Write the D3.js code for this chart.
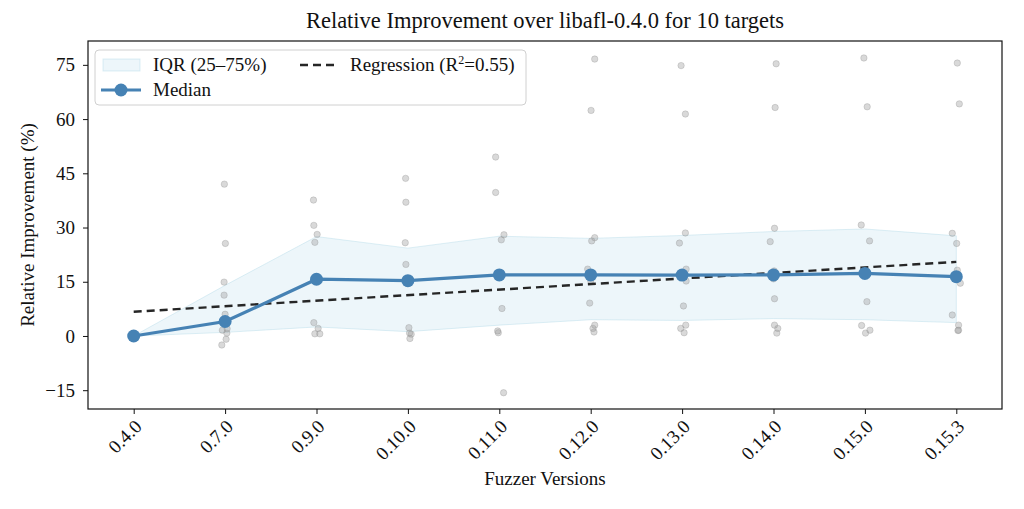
<!DOCTYPE html>
<html>
<head>
<meta charset="utf-8">
<script src="https://d3js.org/d3.v7.min.js"></script>
<style>
  body { margin: 0; background: #fff; }
  text { font-family: "Liberation Serif", "DejaVu Serif", serif; fill: #111; }
  .axis path, .axis line { stroke: #111; }
  .axis text { font-size: 19px; }
</style>
</head>
<body>
<svg id="chart" width="1024" height="509"></svg>
<script>
// fuzzer versions (x axis)
var versions = ["0.4.0", "0.7.0", "0.9.0", "0.10.0", "0.11.0", "0.12.0", "0.13.0", "0.14.0", "0.15.0", "0.15.3"];

// per-target relative improvement (%) for the 10 targets
var targetValues = [
  [0, 0, 0, 0, 0, 0, 0, 0, 0, 0],
  [-2.5, -0.9, 0.8, 1.6, 2.0, 6.0, 11.3, 14.9, 25.6, 42.0],
  [0.6, 0.6, 2.1, 3.7, 15.2, 16.2, 25.9, 28.1, 30.6, 37.6],
  [-0.7, 0.5, 0.8, 2.3, 14.8, 15.8, 19.8, 25.8, 37.0, 43.6],
  [-15.7, 0.9, 1.4, 7.6, 16.4, 17.4, 26.6, 28.0, 39.7, 49.5],
  [1.1, 2.1, 3.0, 9.1, 15.3, 18.5, 26.3, 27.2, 62.4, 76.6],
  [0.9, 2.1, 3.0, 8.3, 15.2, 18.5, 25.7, 28.5, 61.4, 74.8],
  [0.8, 2.1, 3.0, 10.3, 15.8, 18.0, 26.1, 29.8, 63.2, 75.3],
  [0.8, 1.6, 2.9, 9.5, 16.8, 17.8, 26.3, 30.7, 63.4, 76.9],
  [1.5, 1.6, 3.0, 5.8, 14.6, 18.2, 25.6, 28.4, 64.2, 75.5]
];

// horizontal jitter of each target dot (in version-index units)
var targetJitter = [
  [0, 0, 0, 0, 0, 0, 0, 0, 0, 0],
  [-0.036, 0.011, 0.019, -0.030, 0.022, 0.0, -0.011, -0.011, 0.003, -0.008],
  [-0.018, 0.036, 0.018, -0.029, 0.01, -0.01, -0.018, 0.007, -0.029, -0.033],
  [0.022, 0.036, 0.018, 0.011, 0.005, -0.005, -0.022, -0.029, -0.022, -0.025],
  [0.047, -0.011, -0.018, 0.029, 0.005, -0.005, 0.022, 0.051, -0.040, -0.040],
  [0.036, 0.025, 0.044, -0.011, 0.0, -0.033, 0.011, 0.044, 0.004, 0.044],
  [0.022, -0.015, 0.040, 0.015, 0.044, 0.044, -0.029, 0.036, 0.036, -0.011],
  [0.036, 0.047, 0.011, 0.011, 0.0, 0.007, -0.036, 0.011, 0.018, 0.029],
  [0.007, 0.055, -0.036, 0.022, 0.005, -0.005, 0.051, -0.040, 0.025, -0.011],
  [0.018, 0.025, 0.025, -0.044, 0.044, 0.011, 0.004, -0.044, 0.033, 0.011]
];

// summary series
var medians = [0, 4.0, 15.7, 15.3, 16.9, 16.9, 16.85, 16.9, 17.3, 16.4];
var q25 = [0, 1.0, 2.5, 1.2, 3.0, 4.5, 4.3, 4.8, 4.5, 3.7];
var q75 = [0, 14.0, 27.5, 24.3, 27.6, 27.0, 27.8, 28.9, 29.6, 27.7];

// regression line at first and last version
var regressionEnds = [6.7, 20.5];
var rSquared = "0.55";

var yTicks = [-15, 0, 15, 30, 45, 60, 75];

var svg = d3.select("#chart");
var margin = { left: 88, right: 22, top: 41, bottom: 100 };
var W = 1024, H = 509;
var plotW = W - margin.left - margin.right;
var plotH = H - margin.top - margin.bottom;

var x = d3.scaleLinear().domain([-0.5, versions.length - 0.5]).range([margin.left, margin.left + plotW]);
var y = d3.scaleLinear().domain([-20.2, 81.6]).range([margin.top + plotH, margin.top]);

var blue = "#4682b4";
var bandFill = "#add8e6";

// IQR band
var band = d3.area()
  .x(function (d, i) { return x(i); })
  .y0(function (d, i) { return y(q25[i]); })
  .y1(function (d, i) { return y(q75[i]); });
svg.append("path")
  .datum(versions)
  .attr("d", band)
  .attr("fill", bandFill)
  .attr("fill-opacity", 0.22)
  .attr("stroke", bandFill)
  .attr("stroke-opacity", 0.4);

// per-target dots
var dots = [];
targetValues.forEach(function (vals, i) {
  vals.forEach(function (v, j) { dots.push({ i: i + targetJitter[i][j], v: v }); });
});
svg.append("g").selectAll("circle")
  .data(dots)
  .enter().append("circle")
  .attr("cx", function (d) { return x(d.i); })
  .attr("cy", function (d) { return y(d.v); })
  .attr("r", 3.2)
  .attr("fill", "#a0a0a0")
  .attr("fill-opacity", 0.4)
  .attr("stroke", "#8a8a8a")
  .attr("stroke-opacity", 0.3);

// regression
svg.append("line")
  .attr("x1", x(0)).attr("y1", y(regressionEnds[0]))
  .attr("x2", x(versions.length - 1)).attr("y2", y(regressionEnds[1]))
  .attr("stroke", "#262626")
  .attr("stroke-width", 2.4)
  .attr("stroke-dasharray", "8,5");

// median line + markers
var line = d3.line()
  .x(function (d, i) { return x(i); })
  .y(function (d) { return y(d); });
svg.append("path")
  .datum(medians)
  .attr("d", line)
  .attr("fill", "none")
  .attr("stroke", blue)
  .attr("stroke-width", 3.2);
svg.append("g").selectAll("circle")
  .data(medians)
  .enter().append("circle")
  .attr("cx", function (d, i) { return x(i); })
  .attr("cy", function (d) { return y(d); })
  .attr("r", 6.5)
  .attr("fill", blue);

// axes
var xAxis = d3.axisBottom(x)
  .tickValues(d3.range(versions.length))
  .tickFormat(function (i) { return versions[i]; })
  .tickSizeOuter(0)
  .tickSize(5);
var gx = svg.append("g")
  .attr("class", "axis")
  .attr("transform", "translate(0," + (margin.top + plotH) + ")")
  .call(xAxis);
gx.select(".domain").remove();
gx.selectAll("text")
  .attr("text-anchor", "end")
  .attr("dy", "0.35em")
  .attr("transform", "translate(4,14) rotate(-45)")
  .attr("y", 0).attr("x", 0);

var yAxis = d3.axisLeft(y).tickValues(yTicks).tickSize(5).tickSizeOuter(0)
  .tickFormat(function (d) { return d < 0 ? "\u2212" + Math.abs(d) : d; });
var gy = svg.append("g")
  .attr("class", "axis")
  .attr("transform", "translate(" + margin.left + ",0)")
  .call(yAxis);
gy.select(".domain").remove();
gy.selectAll("text").attr("x", -13);

// frame
svg.append("rect")
  .attr("x", margin.left).attr("y", margin.top)
  .attr("width", plotW).attr("height", plotH)
  .attr("fill", "none").attr("stroke", "#111").attr("stroke-width", 1.2);

// title and axis labels
svg.append("text")
  .attr("x", margin.left + plotW / 2).attr("y", 28)
  .attr("text-anchor", "middle")
  .style("font-size", "22.5px")
  .text("Relative Improvement over libafl-0.4.0 for 10 targets");
svg.append("text")
  .attr("x", margin.left + plotW / 2).attr("y", 485)
  .attr("text-anchor", "middle")
  .style("font-size", "19px")
  .text("Fuzzer Versions");
svg.append("text")
  .attr("transform", "translate(34," + (margin.top + plotH / 2) + ") rotate(-90)")
  .attr("text-anchor", "middle")
  .style("font-size", "19px")
  .text("Relative Improvement (%)");

// legend
var lg = svg.append("g").attr("transform", "translate(95,50)");
lg.append("rect")
  .attr("width", 431).attr("height", 55).attr("rx", 4)
  .attr("fill", "#fff").attr("fill-opacity", 0.8)
  .attr("stroke", "#d0d0d0");
lg.append("rect")
  .attr("x", 8).attr("y", 9).attr("width", 37).attr("height", 12)
  .attr("fill", bandFill).attr("fill-opacity", 0.22)
  .attr("stroke", bandFill).attr("stroke-opacity", 0.4);
lg.append("text").attr("x", 58).attr("y", 21).style("font-size", "19px").text("IQR (25\u201375%)");
lg.append("line")
  .attr("x1", 205).attr("x2", 241).attr("y1", 15).attr("y2", 15)
  .attr("stroke", "#262626").attr("stroke-width", 2.4).attr("stroke-dasharray", "8,5");
var rt = lg.append("text").attr("x", 255).attr("y", 21).style("font-size", "19px");
rt.append("tspan").text("Regression (R");
rt.append("tspan").attr("dy", -7).style("font-size", "12px").text("2");
rt.append("tspan").attr("dy", 7).text("=" + rSquared + ")");
lg.append("line")
  .attr("x1", 6).attr("x2", 46).attr("y1", 40).attr("y2", 40)
  .attr("stroke", blue).attr("stroke-width", 3.2);
lg.append("circle").attr("cx", 26).attr("cy", 40).attr("r", 6.5).attr("fill", blue);
lg.append("text").attr("x", 58).attr("y", 46).style("font-size", "19px").text("Median");
</script>
</body>
</html>
